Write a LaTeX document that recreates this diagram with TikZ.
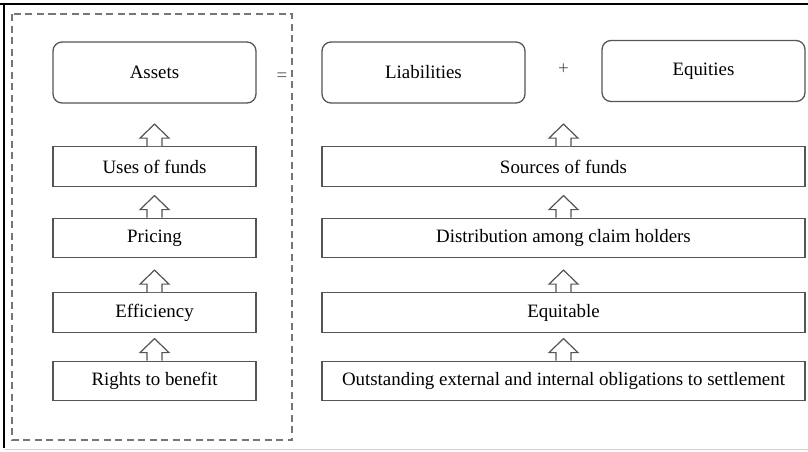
\documentclass[tikz,border=0pt]{standalone}
\usepackage{fontspec}
\setmainfont{Liberation Serif}
\usetikzlibrary{calc}
\definecolor{boxline}{HTML}{555555}
\definecolor{dashline}{HTML}{767676}
\tikzset{
  base/.style={draw=boxline, line width=1.3pt, inner sep=0pt, align=center,
    font=\fontsize{18.9}{22}\selectfont, text=black},
  roundbox/.style={base, rounded corners=9pt, minimum width=203pt, minimum height=61pt},
  leftbox/.style={base, minimum width=203pt, minimum height=39.5pt},
  rightbox/.style={base, minimum width=483pt, minimum height=39.5pt},
  hollow/.style={draw=boxline, line width=1.2pt, fill=white, line join=miter},
  sign/.style={font=\fontsize{18.9}{22}\selectfont, text=boxline, inner sep=0pt},
}
\newcommand{\hollowup}[1]{%
  \draw[hollow] ($(#1.north)+(-7.5,0)$) -- ++(0,-8) -- ++(-7,0) -- ++(14.5,-14)
    -- ++(14.5,14) -- ++(-7,0) -- ++(0,8);}
\begin{document}
\begin{tikzpicture}[x=1pt,y=-1pt]
\useasboundingbox (0,0) rectangle (808,451);
% frame of the screenshot
\draw[line width=2pt, black] (0,4) coordinate (fa) -- (808,4) coordinate (fb);
\draw[line width=2pt, black] (4,4) coordinate (fc) -- (4,448) coordinate (fd);
\draw[line width=1pt, black!18] (5,449) coordinate (fe) -- (808,449) coordinate (ff);
% dashed group
\draw[dashline, line width=1.2pt, dash pattern=on 7pt off 4.5pt] (12,14) rectangle (292,440);
% top row
\node[roundbox] (assets) at (154.5,72.5) {Assets};
\node[roundbox] (liab) at (423.5,72.5) {Liabilities};
\node[roundbox] (equi) at (703.5,71) {Equities};
\node[sign] (eq) at (282,77) {=};
\node[sign] (plus) at (563.5,69) {+};
% left column
\node[leftbox] (uses) at (154.5,166.5) {Uses of funds};
\node[leftbox] (pricing) at (154.5,238) {Pricing};
\node[leftbox] (eff) at (154.5,312.5) {Efficiency};
\node[leftbox] (rights) at (154.5,381) {Rights to benefit};
% right column
\node[rightbox] (sources) at (563.5,166.5) {Sources of funds};
\node[rightbox] (dist) at (563.5,238) {Distribution among claim holders};
\node[rightbox] (equit) at (563.5,312.5) {Equitable};
\node[rightbox] (outst) at (563.5,381) {Outstanding external and internal obligations to settlement};
% hollow arrows
\hollowup{uses}
\hollowup{pricing}
\hollowup{eff}
\hollowup{rights}
\hollowup{sources}
\hollowup{dist}
\hollowup{equit}
\hollowup{outst}
\end{tikzpicture}
\end{document}
